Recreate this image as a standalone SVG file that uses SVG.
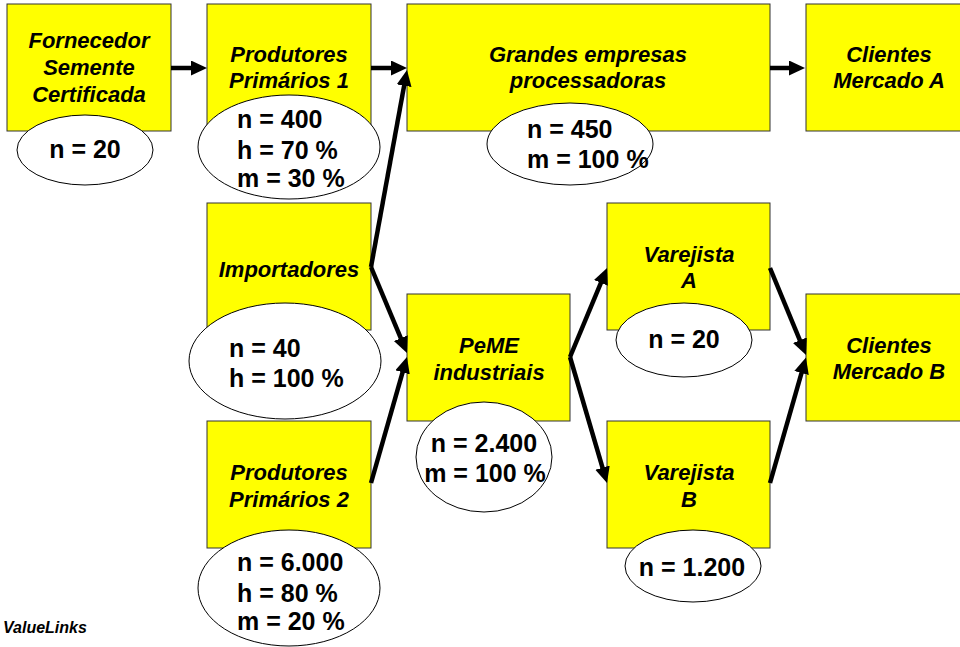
<svg xmlns="http://www.w3.org/2000/svg" width="960" height="647" viewBox="0 0 960 647">
<style>
.box{fill:#FFFF00;stroke:#333;stroke-width:1}
.ell{fill:#fff;stroke:#000;stroke-width:1}
.t{font-family:"Liberation Sans",Arial,sans-serif;font-weight:bold;font-style:italic;font-size:22px;fill:#000;text-anchor:middle}
.e{font-family:"Liberation Sans",Arial,sans-serif;font-weight:bold;font-size:25px;fill:#000}
.c{text-anchor:middle}
.con{stroke:#000;stroke-width:4.5;fill:none;marker-end:url(#ah)}
</style>
<defs>
<marker id="ah" markerUnits="userSpaceOnUse" markerWidth="16" markerHeight="16" refX="6" refY="7.5" orient="auto">
<path d="M0,0 L16,7.5 L0,15 z" fill="#000"/>
</marker>
</defs>
<rect width="960" height="647" fill="#fff"/>

<g id="fornecedor">
<rect class="box" x="7" y="4" width="164" height="127"/>
<text class="t" x="89" y="48">Fornecedor</text>
<text class="t" x="89" y="75">Semente</text>
<text class="t" x="89" y="102">Certificada</text>
<ellipse class="ell" cx="85" cy="150" rx="68" ry="35"/>
<text class="e c" x="85" y="158">n = 20</text>
</g>

<g id="produtores1">
<rect class="box" x="207" y="4" width="164" height="127"/>
<text class="t" x="289" y="62">Produtores</text>
<text class="t" x="289" y="88">Primários 1</text>
<ellipse class="ell" cx="289" cy="147" rx="91" ry="52"/>
<text class="e" x="237" y="128">n = 400</text>
<text class="e" x="237" y="159">h = 70 %</text>
<text class="e" x="237" y="187">m = 30 %</text>
</g>

<g id="grandes">
<rect class="box" x="407" y="4" width="363" height="127"/>
<text class="t" x="588" y="62">Grandes empresas</text>
<text class="t" x="588" y="88">processadoras</text>
<ellipse class="ell" cx="570" cy="144" rx="83" ry="41"/>
<text class="e" x="527" y="138">n = 450</text>
<text class="e" x="527" y="168">m = 100 %</text>
</g>

<g id="clientesA">
<rect class="box" x="806" y="4" width="166" height="127"/>
<text class="t" x="889" y="62">Clientes</text>
<text class="t" x="889" y="88">Mercado A</text>
</g>

<g id="importadores">
<rect class="box" x="207" y="203" width="164" height="127"/>
<text class="t" x="289" y="277">Importadores</text>
<ellipse class="ell" cx="285" cy="361" rx="96" ry="58"/>
<text class="e" x="229" y="357">n = 40</text>
<text class="e" x="229" y="387">h = 100 %</text>
</g>

<g id="peme">
<rect class="box" x="407" y="294" width="163" height="127"/>
<text class="t" x="489" y="353">PeME</text>
<text class="t" x="489" y="380">industriais</text>
<ellipse class="ell" cx="484" cy="457" rx="68" ry="55"/>
<text class="e c" x="484" y="452">n = 2.400</text>
<text class="e c" x="485" y="482">m = 100 %</text>
</g>

<g id="produtores2">
<rect class="box" x="207" y="421" width="164" height="127"/>
<text class="t" x="289" y="480">Produtores</text>
<text class="t" x="289" y="507">Primários 2</text>
<ellipse class="ell" cx="289" cy="588" rx="91" ry="58"/>
<text class="e" x="237" y="571">n = 6.000</text>
<text class="e" x="237" y="602">h = 80 %</text>
<text class="e" x="237" y="630">m = 20 %</text>
</g>

<g id="varejistaA">
<rect class="box" x="607" y="203" width="163" height="127"/>
<text class="t" x="689" y="262">Varejista</text>
<text class="t" x="689" y="288">A</text>
<ellipse class="ell" cx="684" cy="340" rx="68" ry="37"/>
<text class="e c" x="684" y="348">n = 20</text>
</g>

<g id="varejistaB">
<rect class="box" x="607" y="421" width="163" height="127"/>
<text class="t" x="689" y="480">Varejista</text>
<text class="t" x="689" y="507">B</text>
<ellipse class="ell" cx="693" cy="566" rx="68" ry="36"/>
<text class="e c" x="692" y="576">n = 1.200</text>
</g>

<g id="clientesB">
<rect class="box" x="806" y="294" width="166" height="127"/>
<text class="t" x="889" y="353">Clientes</text>
<text class="t" x="889" y="379">Mercado B</text>
</g>

<g id="connectors">
<line class="con" x1="171" y1="68" x2="197" y2="68"/>
<line class="con" x1="371" y1="68" x2="397" y2="68"/>
<line class="con" x1="371" y1="267" x2="405.2" y2="79.8"/>
<line class="con" x1="371" y1="267" x2="403.1" y2="343.7"/>
<line class="con" x1="371" y1="483" x2="404.2" y2="366.6"/>
<line class="con" x1="770" y1="68" x2="795" y2="68"/>
<line class="con" x1="570" y1="357" x2="603.2" y2="277.3"/>
<line class="con" x1="570" y1="357" x2="604.2" y2="473.4"/>
<line class="con" x1="770" y1="268" x2="802.2" y2="345.8"/>
<line class="con" x1="770" y1="483" x2="803.2" y2="367.2"/>
</g>

<text x="3" y="633" style="font-family:'Liberation Sans',Arial,sans-serif;font-weight:bold;font-style:italic;font-size:16px">ValueLinks</text>
</svg>
